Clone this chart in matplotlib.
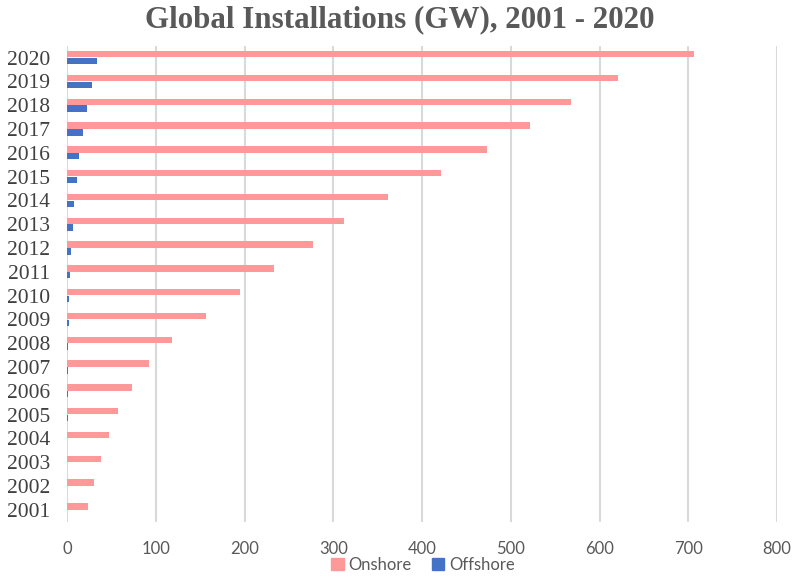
import matplotlib
matplotlib.use("Agg")
import matplotlib.pyplot as plt
from matplotlib.patches import Patch
import numpy as np

years = [2001, 2002, 2003, 2004, 2005, 2006, 2007, 2008, 2009, 2010,
         2011, 2012, 2013, 2014, 2015, 2016, 2017, 2018, 2019, 2020]
onshore = [23.3, 30.8, 38.7, 47.0, 57.5, 73.0, 92.8, 118.4, 156.7, 195.0,
           233.7, 277.7, 312.0, 361.7, 421.0, 472.7, 522.0, 568.0, 620.8, 707.0]
offshore = [0.2, 0.3, 0.5, 0.5, 0.6, 0.7, 1.1, 1.5, 1.9, 2.6,
            3.4, 4.5, 6.4, 7.5, 11.6, 13.5, 18.4, 22.5, 28.5, 34.2]
x_ticks = [0, 100, 200, 300, 400, 500, 600, 700, 800]

ON_COLOR = "#FF9999"
OFF_COLOR = "#4472C4"
TEXT_GRAY = "#595959"

W, H = 792, 577
fig = plt.figure(figsize=(W / 100, H / 100), dpi=100)
ax = fig.add_axes([67 / W, 55.3 / H, 710 / W, 476 / H])

pos = np.arange(len(years))
bh = 0.27
off = 0.145
ax.barh(pos + off, onshore, height=bh, color=ON_COLOR, zorder=3)
ax.barh(pos - off, offshore, height=bh, color=OFF_COLOR, zorder=3)

ax.set_xlim(0, 800)
ax.set_ylim(-0.5, len(years) - 0.5)
ax.set_xticks(x_ticks)
ax.set_xticklabels([str(t) for t in x_ticks], family="Lato", fontsize=12,
                   color=TEXT_GRAY)
ax.set_yticks(pos)
ax.set_yticklabels([str(y) for y in years], family="Liberation Serif",
                   fontsize=15.5, color="#404040")
ax.tick_params(axis="both", length=0)
ax.tick_params(axis="x", pad=14)
ax.tick_params(axis="y", pad=12)

ax.grid(axis="x", color="#D9D9D9", linewidth=1.5, zorder=0)
for s in ax.spines.values():
    s.set_visible(False)

fig.text(400 / W, 1 - 20 / H, "Global Installations (GW), 2001 - 2020",
         ha="center", va="center", family="Liberation Serif",
         fontweight="bold", fontsize=22.3, color=TEXT_GRAY)

handles = [Patch(color=ON_COLOR, label="Onshore"),
           Patch(color=OFF_COLOR, label="Offshore")]
fig.legend(handles=handles, loc="center", bbox_to_anchor=(423 / W, 1 - 565 / H),
           ncol=2, frameon=False, prop={"family": "Lato", "size": 12},
           labelcolor=TEXT_GRAY, handlelength=0.75, handleheight=0.75,
           handletextpad=0.3, columnspacing=1.2)

fig.savefig("out.png", dpi=100)
